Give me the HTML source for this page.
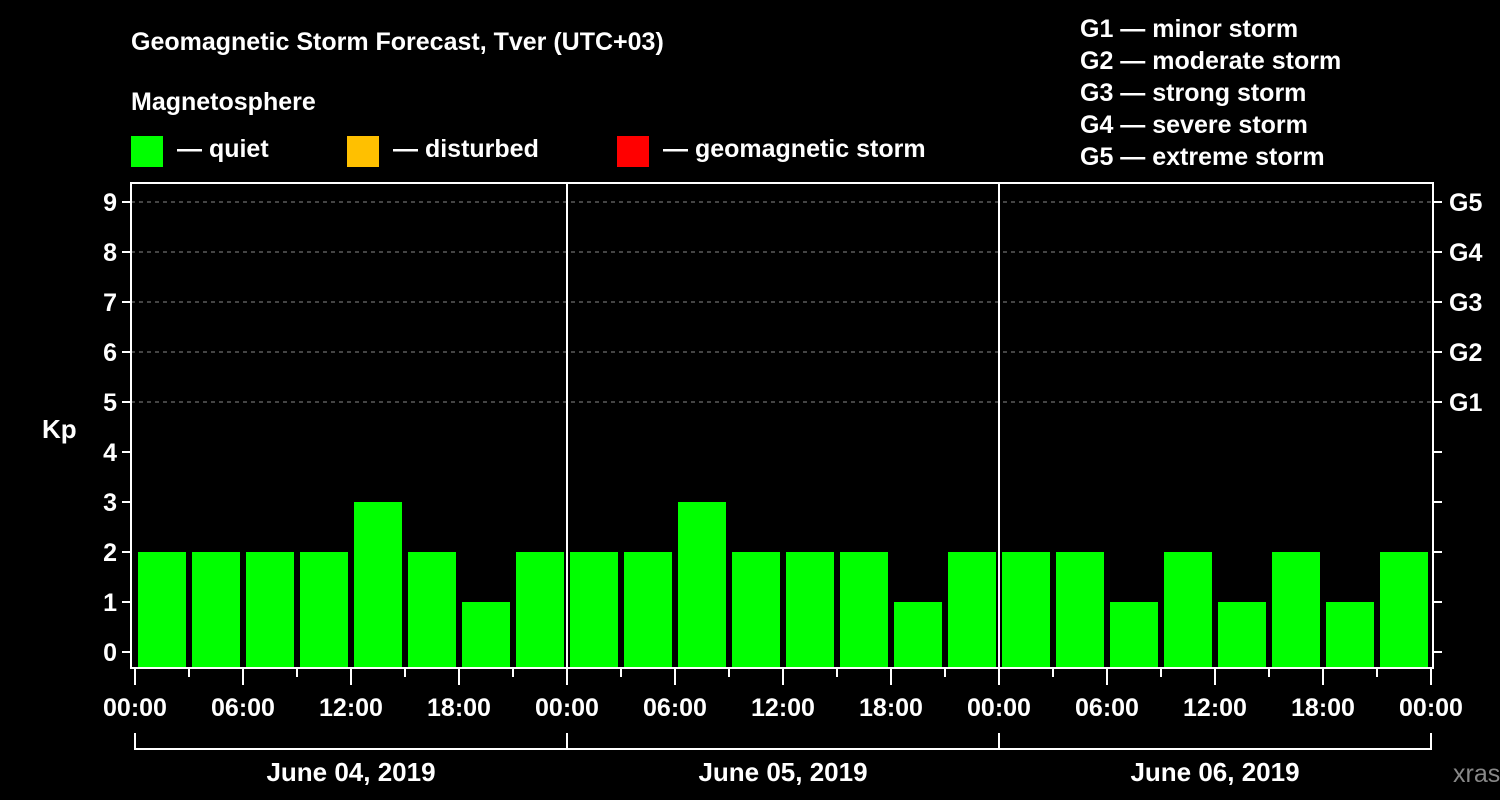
<!DOCTYPE html>
<html><head><meta charset="utf-8"><style>
body{margin:0;background:#000;}
svg{display:block;font-family:"Liberation Sans",Arial,sans-serif;font-weight:bold;}
</style></head><body>
<svg id="c" width="1500" height="800" viewBox="0 0 1500 800">
<rect width="1500" height="800" fill="#000"/>
<text x="131" y="50" fill="#fff" font-size="25">Geomagnetic Storm Forecast, Tver (UTC+03)</text>
<text x="131" y="110" fill="#fff" font-size="25">Magnetosphere</text>
<g><rect x="131" y="136" width="32" height="31" fill="#00ff00"/><text x="177" y="157" fill="#fff" font-size="25">— quiet</text></g>
<g><rect x="347" y="136" width="32" height="31" fill="#ffc000"/><text x="393" y="157" fill="#fff" font-size="25">— disturbed</text></g>
<g><rect x="617" y="136" width="32" height="31" fill="#ff0000"/><text x="663" y="157" fill="#fff" font-size="25">— geomagnetic storm</text></g>
<g fill="#fff" font-size="25">
<text x="1080" y="37">G1 — minor storm</text>
<text x="1080" y="69">G2 — moderate storm</text>
<text x="1080" y="101">G3 — strong storm</text>
<text x="1080" y="133">G4 — severe storm</text>
<text x="1080" y="165">G5 — extreme storm</text>
</g>
<text x="42" y="438" fill="#fff" font-size="26">Kp</text>
<text x="1453" y="782" fill="#888" font-size="25" font-weight="normal">xras.ru</text>
<g id="g"></g>
</svg>
<script>
const kpValues=[2,2,2,2,3,2,1,2, 2,2,3,2,2,2,1,2, 2,2,1,2,1,2,1,2];
const yTicks=[0,1,2,3,4,5,6,7,8,9];
const gLabels=["G1","G2","G3","G4","G5"];
const hourLabels=["00:00","06:00","12:00","18:00"];
const dayLabels=["June 04, 2019","June 05, 2019","June 06, 2019"];
const L=131,R=1433,T=183,B=668,X0=135,DAY=432;
const y=v=>652-v*50;
const x=h=>X0+h*DAY/24;
const g=document.getElementById('g');
const NS='http://www.w3.org/2000/svg';
function mk(t,a,txt){const e=document.createElementNS(NS,t);for(const k in a)e.setAttribute(k,a[k]);if(txt!==undefined)e.textContent=txt;g.appendChild(e);return e;}
// grid
yTicks.forEach(v=>{
 if(v>=5){const l=mk('line',{x1:L,x2:R,y1:y(v),y2:y(v),stroke:'#888','stroke-dasharray':'4,4','stroke-width':1});
 
 }
 const t=mk('line',{x1:L-9,x2:L,y1:y(v),y2:y(v),stroke:'#fff','stroke-width':2});
 
 
 const t2=mk('line',{x1:R,x2:R+9,y1:y(v),y2:y(v),stroke:'#fff','stroke-width':2});
 
 
 const tx=mk('text',{x:L-14,y:y(v)+9,fill:'#fff','font-size':25,'text-anchor':'end'},String(v));
 
 
});
gLabels.forEach((s,i)=>{
 const tx=mk('text',{x:1449,y:y(5+i)+9,fill:'#fff','font-size':25},s);
 
 
});
// bars
kpValues.forEach((v,i)=>{
 const b=mk('rect',{x:x(i*3)+3,y:y(v),width:DAY/8-6,height:B-y(v),fill:'#00ff00'});
 
 
});
// day separators
[1,2].forEach(d=>{
 const l=mk('line',{x1:x(d*24),x2:x(d*24),y1:T,y2:B,stroke:'#fff','stroke-width':2});
 
 
});
// frame
const f=mk('rect',{x:L,y:T,width:R-L,height:B-T,fill:'none',stroke:'#fff','stroke-width':2});


// x ticks
for(let h=0;h<=72;h+=3){
 const major=h%6===0;
 const t=mk('line',{x1:x(h),x2:x(h),y1:B,y2:major?B+17:B+9,stroke:'#fff','stroke-width':2});
 
 
 if(major){
  const tx=mk('text',{x:x(h),y:716,fill:'#fff','font-size':25,'text-anchor':'middle'},hourLabels[(h/6)%4]);
  
  
 }
}
// day brackets
dayLabels.forEach((s,d)=>{
 const p=mk('polyline',{points:`${x(d*24)},733 ${x(d*24)},749 ${x(d*24+24)},749 ${x(d*24+24)},733`,fill:'none',stroke:'#fff','stroke-width':2});
 
 
 const tx=mk('text',{x:x(d*24+12),y:781,fill:'#fff','font-size':26,'text-anchor':'middle'},s);
 
 
});
</script>
</body></html>
